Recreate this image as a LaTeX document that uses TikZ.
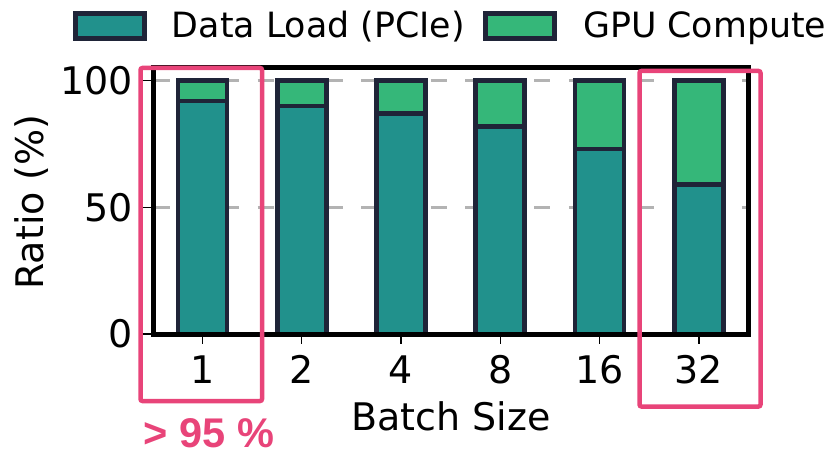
\documentclass[tikz,border=0pt]{standalone}
\usepackage{fontspec}
\setmainfont{DejaVu Sans}
\newfontfamily\arialbold{Liberation Sans}
\definecolor{loadc}{HTML}{21918C}
\definecolor{compc}{HTML}{35B779}
\definecolor{edgec}{HTML}{1F2438}
\definecolor{hlc}{HTML}{E84479}
\definecolor{gridc}{HTML}{B3B3B3}
\tikzset{
  seg/.style={draw=edgec, line width=4.7pt},
  gridln/.style={draw=gridc, line width=3pt, dash pattern=on 16pt off 18.6pt},
  axisframe/.style={draw=black, line width=5pt},
  tickln/.style={draw=black, line width=1.4pt},
  ticklbl/.style={inner sep=0pt, font=\fontsize{38}{44}\selectfont},
  legendlbl/.style={inner sep=0pt, font=\fontsize{34.8}{40}\selectfont},
  hlbox/.style={draw=hlc, line width=4.5pt, rounded corners=2pt},
}
\begin{document}
\begin{tikzpicture}[x=1pt, y=-1pt]
  \useasboundingbox (0,0) rectangle (829,454);
  % y(v) = 334 - 2.533 v
  \pgfmathsetmacro{\ybot}{334}
  \pgfmathsetmacro{\ytop}{334-2.533*100}
  \pgfmathsetmacro{\ymid}{334-2.533*50}

  % horizontal grid
  \coordinate (gl1) at (153.7,\ytop);
  \coordinate (gr1) at (748,\ytop);
  \coordinate (gl2) at (153.7,\ymid);
  \coordinate (gr2) at (748,\ymid);
  \draw[gridln] (gl1) -- (gr1);
  \draw[gridln] (gl2) -- (gr2);

  % stacked bars
  \foreach \i/\v/\lbl in {0/92/1, 1/90/2, 2/87/4, 3/82/8, 4/73/16, 5/59/32} {
    \pgfmathsetmacro{\xc}{202.4+99.3*\i}
    \pgfmathsetmacro{\ys}{334-2.533*\v}
    \draw[seg, fill=loadc] (\xc-24.5,\ybot) rectangle (\xc+24.5,\ys);
    \draw[seg, fill=compc] (\xc-24.5,\ys) rectangle (\xc+24.5,\ytop);
    \coordinate (xt\i) at (\xc,336);
    \coordinate (xb\i) at (\xc,343.5);
    \draw[tickln] (xt\i) -- (xb\i);
    \node[ticklbl, anchor=base] (xl\i) at (\xc,383.3) {\lbl};
  }

  % axes frame
  \draw[axisframe] (153.7,68) rectangle (748,334);

  % y ticks and labels
  \foreach \v/\n in {0/a, 50/b, 100/c} {
    \pgfmathsetmacro{\yy}{334-2.533*\v}
    \coordinate (yt\n) at (143,\yy);
    \coordinate (yb\n) at (151,\yy);
    \draw[tickln] (yt\n) -- (yb\n);
    \node[ticklbl, anchor=east] (yl\n) at (133,\yy) {\v};
  }

  % axis titles
  \node[ticklbl, anchor=base] (xtitle) at (451,430) {Batch Size};
  \node[ticklbl, anchor=base, rotate=90] (ytitle) at (43.3,202) {Ratio (\%)};

  % legend
  \draw[seg, fill=loadc] (75.8,13.2) rectangle (144.8,38.2);
  \node[legendlbl, anchor=base west] (leg1) at (171.7,37.3) {Data Load (PCIe)};
  \draw[seg, fill=compc] (485.8,13.2) rectangle (554.8,38.2);
  \node[legendlbl, anchor=base west] (leg2) at (583,37.3) {GPU Compute};

  % highlight boxes
  \draw[hlbox] (140.5,68) rectangle (262,401);
  \draw[hlbox] (639.5,71) rectangle (760.5,406.5);
  \node[inner sep=0pt, anchor=base west, text=hlc,
        font=\fontsize{41.5}{46}\arialbold\bfseries] (note) at (143.5,447.5) {> 95 \%};
\end{tikzpicture}
\end{document}
